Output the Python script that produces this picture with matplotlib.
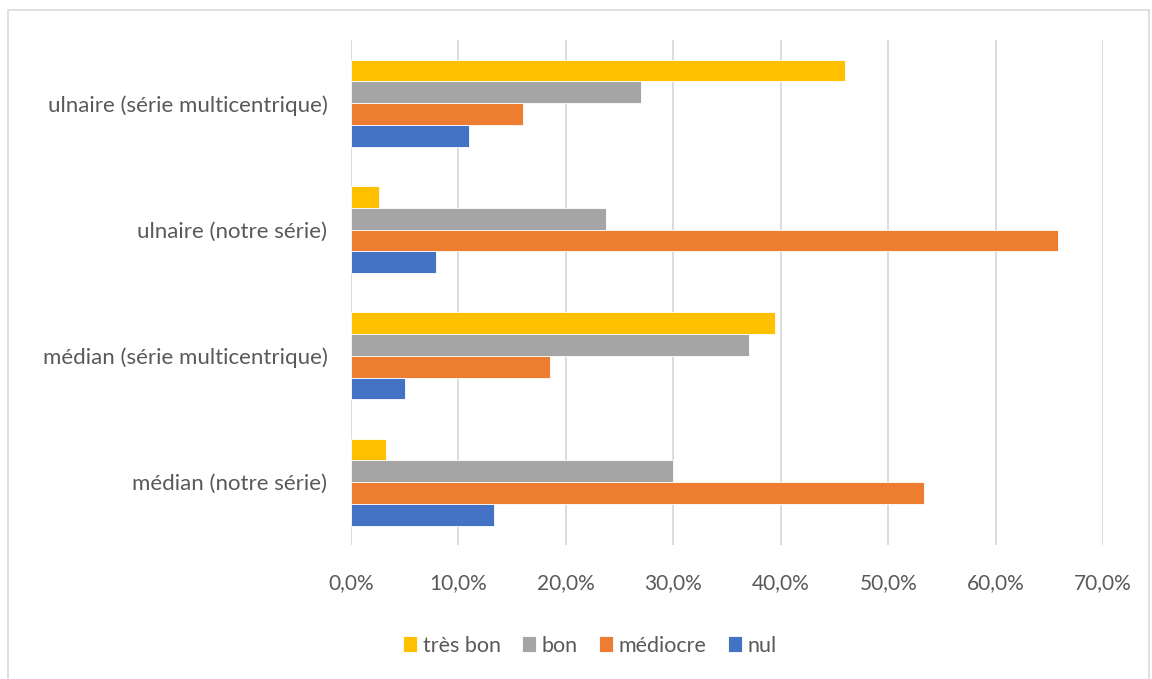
import matplotlib.pyplot as plt
import numpy as np
from matplotlib.patches import Rectangle
from matplotlib.ticker import FuncFormatter

plt.rcParams['font.family'] = ['Lato', 'DejaVu Sans']

categories = ["médian (notre série)", "médian (série multicentrique)",
              "ulnaire (notre série)", "ulnaire (série multicentrique)"]
series = ["très bon", "bon", "médiocre", "nul"]
tres_bon = [3.3, 39.5, 2.6, 46.0]
bon = [30.0, 37.0, 23.7, 27.0]
mediocre = [53.3, 18.5, 65.8, 16.0]
nul = [13.3, 5.0, 7.9, 11.0]
colors = ["#FFC000", "#A5A5A5", "#ED7D31", "#4472C4"]

fig = plt.figure(figsize=(11.52, 6.79), dpi=100)
ax = fig.add_axes([0.3047, 0.197, 0.6528, 0.744])

y = np.arange(len(categories))
h = 0.172
offsets = [1.5 * h, 0.5 * h, -0.5 * h, -1.5 * h]
for vals, name, c, off in zip([tres_bon, bon, mediocre, nul], series, colors, offsets):
    ax.barh(y + off, vals, height=h, color=c, label=name, edgecolor="white", linewidth=0.6, zorder=3)

ax.set_xlim(0, 70)
ax.set_ylim(-0.5, 3.5)
ax.set_xticks(np.arange(0, 71, 10))
ax.xaxis.set_major_formatter(FuncFormatter(lambda v, p: f"{v:.1f}%".replace(".", ",")))
ax.set_yticks(y)
ax.set_yticklabels(categories)
ax.grid(axis="x", color="#D9D9D9", linewidth=1.3, zorder=0)
for s in ax.spines.values():
    s.set_visible(False)
ax.tick_params(axis="both", length=0, colors="#595959")
ax.tick_params(axis="x", pad=20, labelsize=15)
ax.tick_params(axis="y", pad=17, labelsize=16)

handles, labels = ax.get_legend_handles_labels()
fig.legend(handles, labels, loc="center", bbox_to_anchor=(0.512, 0.049), ncol=4,
           frameon=False, fontsize=15.5, labelcolor="#595959", handlelength=0.65,
           handleheight=0.8, handletextpad=0.25, columnspacing=1.0)

fig.patches.append(Rectangle((0.007, -0.02), 0.99, 1.005, transform=fig.transFigure,
                             fill=False, edgecolor="#D9D9D9", linewidth=1.2))

fig.savefig("out.png", dpi=100)
